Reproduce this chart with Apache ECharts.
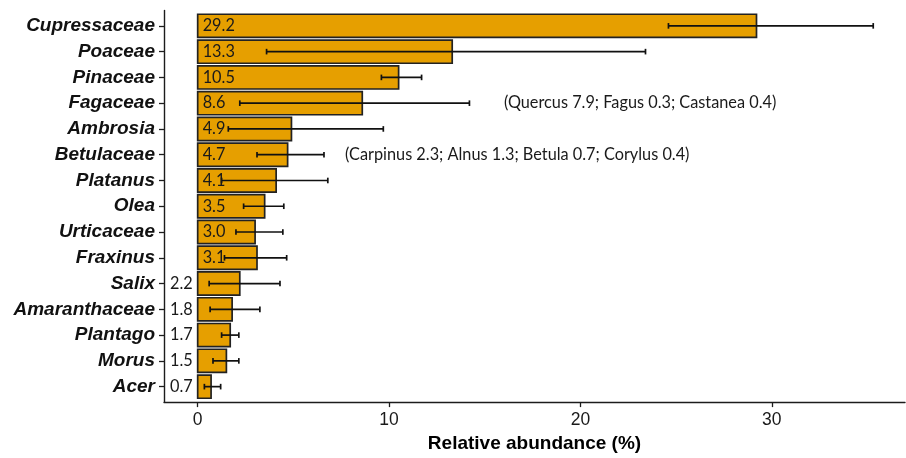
<!DOCTYPE html>
<html>
<head>
<meta charset="utf-8">
<title>Relative abundance of pollen taxa</title>
<script src="https://cdn.jsdelivr.net/npm/echarts@6/dist/echarts.min.js"></script>
<style>
  html, body { margin: 0; padding: 0; background: #ffffff; }
  #chart { width: 906px; height: 458px; }
</style>
</head>
<body>
<div id="chart"></div>
<script>
// Pollen taxa, top to bottom
const categories = ['Cupressaceae', 'Poaceae', 'Pinaceae', 'Fagaceae', 'Ambrosia', 'Betulaceae',
  'Platanus', 'Olea', 'Urticaceae', 'Fraxinus', 'Salix', 'Amaranthaceae', 'Plantago', 'Morus', 'Acer'];

// Relative abundance (%) per taxon
const abundance = [29.2, 13.3, 10.5, 8.6, 4.9, 4.7, 4.1, 3.5, 3.0, 3.1, 2.2, 1.8, 1.7, 1.5, 0.7];

// Whisker ends (%)
const errLow  = [24.6, 3.6, 9.6, 2.2, 1.6, 3.1, 1.25, 2.4, 2.0, 1.4, 0.6, 0.65, 1.25, 0.8, 0.35];
const errHigh = [35.3, 23.4, 11.7, 14.2, 9.7, 6.6, 6.8, 4.5, 4.45, 4.65, 4.3, 3.25, 2.15, 2.15, 1.2];

// Genus breakdown notes
const noteCategories = ['Fagaceae', 'Betulaceae'];
const noteTexts = ['(Quercus 7.9; Fagus 0.3; Castanea 0.4)',
  '(Carpinus 2.3; Alnus 1.3; Betula 0.7; Corylus 0.4)'];

// Axis ticks
const xTicks = [0, 10, 20, 30];

// ---- layout / style ----
const BAR_FILL = '#E69F00';
const INK = '#1c1c1c';
const LABEL_FONT = '"Lato", "Open Sans", sans-serif';
const LABEL_SIZE = 16.3;
const AXIS_FONT = '"Liberation Sans", Arial, sans-serif';
// where each note starts along the x axis (data units), kept clear of the whiskers
const noteAnchor = { Fagaceae: 16.0, Betulaceae: 7.7 };

const rows = categories.map((c, i) => i + 1);
const barData = categories.map((c, i) => [abundance[i], rows[i], errLow[i], errHigh[i]]);
const noteData = noteCategories.map((c) => [noteAnchor[c], categories.indexOf(c) + 1]);

const chart = echarts.init(document.getElementById('chart'), null, { renderer: 'canvas' });

chart.setOption({
  animation: false,
  backgroundColor: '#ffffff',
  grid: { left: 164, top: 10.4, width: 741, height: 395.5, containLabel: false },
  xAxis: {
    type: 'value',
    min: -1.76,
    max: 36.96,
    name: 'Relative abundance (%)',
    nameLocation: 'middle',
    nameGap: 23,
    nameTextStyle: { fontFamily: AXIS_FONT, fontWeight: 'bold', fontSize: 19, color: '#000' },
    axisLine: { show: true, onZero: false, lineStyle: { color: INK, width: 1.4 } },
    axisTick: { show: true, length: 5, lineStyle: { color: INK, width: 1.3 }, customValues: xTicks },
    axisLabel: { fontFamily: AXIS_FONT, fontSize: 17.5, color: '#1a1a1a', margin: 9, customValues: xTicks },
    splitLine: { show: false }
  },
  yAxis: {
    type: 'value',
    min: 0.4,
    max: 15.6,
    inverse: true,
    axisLine: { show: true, onZero: false, lineStyle: { color: INK, width: 1.4 } },
    axisTick: { show: true, length: 5, lineStyle: { color: INK, width: 1.3 }, customValues: rows },
    axisLabel: {
      customValues: rows,
      formatter: (v) => categories[Math.round(v) - 1] || '',
      fontFamily: AXIS_FONT, fontSize: 19, fontWeight: 'bold', fontStyle: 'italic',
      color: '#111', margin: 9
    },
    splitLine: { show: false }
  },
  series: [
    {
      type: 'custom',
      name: 'abundance',
      data: barData,
      encode: { x: [0, 2, 3], y: 1 },
      clip: false,
      renderItem: (params, api) => {
        const v = api.value(0), row = api.value(1);
        const lo = api.value(2), hi = api.value(3);
        const origin = api.coord([0, row]);
        const end = api.coord([v, row]);
        const band = api.size([0, 1])[1];
        const h = band * 0.9;
        const pLo = api.coord([lo, row]);
        const pHi = api.coord([hi, row]);
        const cy = origin[1];
        const cap = 2.8;
        const whisker = { stroke: '#111', lineWidth: 1.7 };
        const inside = v >= 2.5;
        return {
          type: 'group',
          children: [
            {
              type: 'rect',
              shape: { x: origin[0], y: cy - h / 2, width: end[0] - origin[0], height: h },
              style: { fill: BAR_FILL, stroke: '#222', lineWidth: 1.7 }
            },
            { type: 'line', shape: { x1: pLo[0], y1: cy, x2: pHi[0], y2: cy }, style: whisker },
            { type: 'line', shape: { x1: pLo[0], y1: cy - cap, x2: pLo[0], y2: cy + cap }, style: whisker },
            { type: 'line', shape: { x1: pHi[0], y1: cy - cap, x2: pHi[0], y2: cy + cap }, style: whisker },
            {
              type: 'text',
              z2: 10,
              style: {
                text: v.toFixed(1),
                x: inside ? origin[0] + 5 : origin[0] - 5,
                y: cy,
                align: inside ? 'left' : 'right',
                verticalAlign: 'middle',
                fill: '#1a1a1a',
                font: LABEL_SIZE + 'px ' + LABEL_FONT
              }
            }
          ]
        };
      }
    },
    {
      type: 'custom',
      name: 'notes',
      data: noteData,
      encode: { x: 0, y: 1 },
      clip: false,
      renderItem: (params, api) => {
        const p = api.coord([api.value(0), api.value(1)]);
        return {
          type: 'text',
          style: {
            text: noteTexts[params.dataIndex],
            x: p[0],
            y: p[1],
            align: 'left',
            verticalAlign: 'middle',
            fill: '#1a1a1a',
            font: LABEL_SIZE + 'px ' + LABEL_FONT
          }
        };
      }
    }
  ]
});
</script>
</body>
</html>
